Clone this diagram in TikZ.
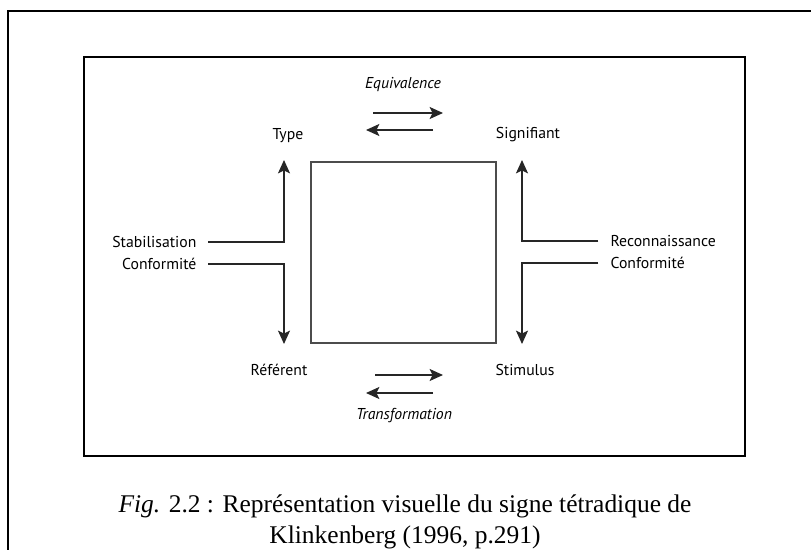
\documentclass[tikz,border=0pt]{standalone}
\usepackage{fontspec}
\setmainfont{Liberation Serif}
\newfontfamily\diagfont{PT Sans}
\usetikzlibrary{arrows.meta}
\begin{document}
\begin{tikzpicture}[x=0.75pt,y=-0.75pt,
  frame/.style={line width=1.5pt},
  lbl/.style={font=\diagfont\fontsize{11.8}{14}\selectfont, inner sep=1pt},
  ilbl/.style={font=\diagfont\itshape\fontsize{11.8}{14}\selectfont, inner sep=1pt},
  conn/.style={line width=0.9pt, draw=black!85},
  arr/.style={conn, -{Stealth[length=10pt,width=9pt,inset=2.2pt]}},
  sqbox/.style={draw=black!70, line width=1pt, minimum width=138.75pt, minimum height=135.75pt, inner sep=0pt}]
\useasboundingbox (0,0) rectangle (811,550);
% frames
\draw[frame] (8,552) -- (8,11) -- (813,11);
\draw[frame] (84,57) rectangle (745,456);
% square
\node[sqbox] (sq) at (403.5,252.5) {};
% labels
\node[lbl] (type) at (288,136) {Type};
\node[lbl] (signifiant) at (528,135) {Signifiant};
\node[lbl] (referent) at (279,370) {Référent};
\node[lbl] (stimulus) at (525,370) {Stimulus};
\node[ilbl] (equiv) at (403,85) {Equivalence};
\node[ilbl] (transf) at (404,416) {Transformation};
\node[lbl, anchor=east] (stab) at (198,242) {Stabilisation};
\node[lbl, anchor=east] (confl) at (198,264) {Conformité};
\node[lbl, anchor=west] (reco) at (609,241) {Reconnaissance};
\node[lbl, anchor=west] (confr) at (609,263) {Conformité};
% connector coordinates
\coordinate (tlc) at (284,242);
\coordinate (tlt) at (284,160);
\coordinate (blc) at (284,264);
\coordinate (blt) at (284,344);
\coordinate (trc) at (522,241);
\coordinate (trt) at (522,160);
\coordinate (brc) at (522,263);
\coordinate (brt) at (522,344);
\coordinate (e1s) at (373,113); \coordinate (e1t) at (443,113);
\coordinate (e2s) at (433,130); \coordinate (e2t) at (366,130);
\coordinate (t1s) at (375,375); \coordinate (t1t) at (443,375);
\coordinate (t2s) at (433,393); \coordinate (t2t) at (366,393);
% connectors
\draw[arr] ([xshift=7.5pt]stab.east) -- (tlc) -- (tlt);
\draw[arr] ([xshift=7.5pt]confl.east) -- (blc) -- (blt);
\draw[arr] ([xshift=-8pt]reco.west) -- (trc) -- (trt);
\draw[arr] ([xshift=-8pt]confr.west) -- (brc) -- (brt);
\draw[arr] (e1s) -- (e1t);
\draw[arr] (e2s) -- (e2t);
\draw[arr] (t1s) -- (t1t);
\draw[arr] (t2s) -- (t2t);
% caption
\node[align=center, font=\fontsize{19.1}{23}\selectfont, inner sep=0pt] (cap) at (405,522)
  {\textit{Fig.} 2.2 : Représentation visuelle du signe tétradique de\\ Klinkenberg (1996, p.291)};
\end{tikzpicture}
\end{document}
